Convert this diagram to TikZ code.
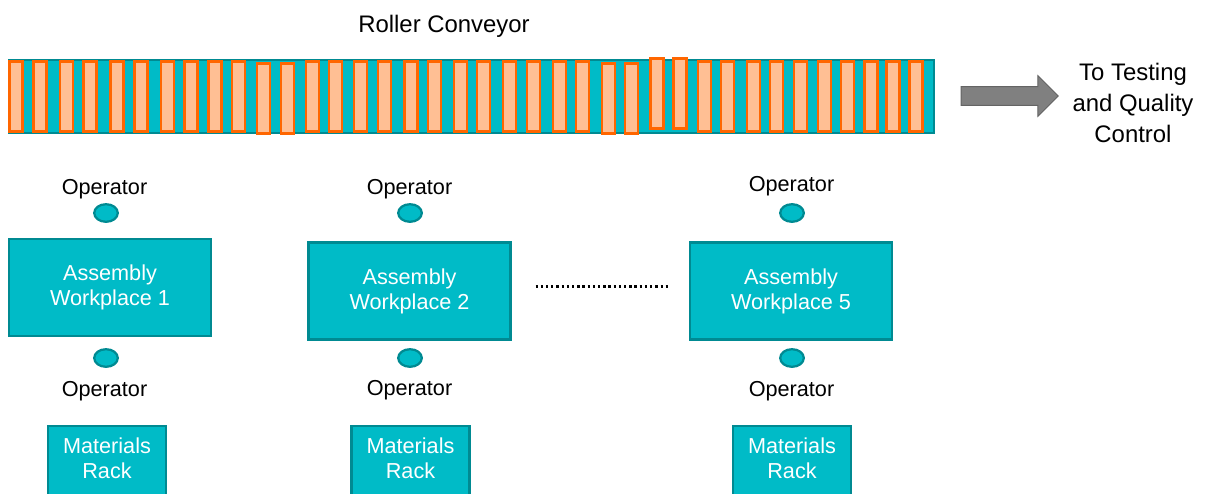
\documentclass[tikz,border=0pt]{standalone}
\usepackage{fontspec}
\setmainfont{Liberation Sans}
\usetikzlibrary{positioning,shapes.geometric,shapes.arrows}

\definecolor{convteal}{RGB}{0,187,199}
\definecolor{tealedge}{RGB}{0,138,146}
\definecolor{rollerline}{RGB}{255,102,0}
\definecolor{rollerfill}{RGB}{255,191,148}
\definecolor{arrowfill}{RGB}{128,128,128}
\definecolor{arrowline}{RGB}{100,100,100}

\newcommand{\bigtext}{\fontsize{17}{22}\selectfont}
\newcommand{\smalltext}{\fontsize{15.4}{17.8}\selectfont}

\tikzset{
  station/.style={draw=tealedge, fill=convteal, line width=1.7pt, text=white,
    align=center, font=\smalltext, minimum width=5.05cm, minimum height=2.43cm},
  rack/.style={draw=tealedge, fill=convteal, line width=1.7pt, text=white,
    align=center, font=\smalltext, text width=2.95cm, anchor=north,
    inner xsep=0pt, inner ysep=8.5pt, text depth=40pt},
  opdot/.style={ellipse, draw=tealedge, fill=convteal, line width=1.6pt,
    minimum width=0.59cm, minimum height=0.44cm, inner sep=0pt},
  oplabel/.style={font=\smalltext, inner sep=0pt, anchor=base},
  roller/.style={draw=rollerline, fill=rollerfill, line width=2.1pt},
  dotline/.style={line width=1.6pt, dash pattern=on 1.6pt off 2.1pt},
}

\begin{document}
\begin{tikzpicture}[x=0.025cm, y=-0.025cm]
    \useasboundingbox (0,0) rectangle (1207,493);
    \clip (0,0) rectangle (1207,493);

    % conveyor with its rollers
    \node[font=\bigtext, inner sep=0pt] (title) at (444,26) {Roller Conveyor};
    \node[draw=tealedge, fill=convteal, line width=1.4pt, inner sep=0pt,
          minimum width=23.125cm, minimum height=1.825cm, anchor=north west] (conveyor) at (8,59) {};
    \foreach \x/\dy in {16/0, 40/0, 66.5/0, 90/0, 117/0, 141/0, 167.5/0, 191/0, 215/0, 238.5/0,
                        263.5/2, 287.5/2, 312.5/0, 335.5/0, 360.5/0, 384.5/0, 411/0, 434.5/0, 460.5/0,
                        483.5/0, 509.5/0, 533.5/0, 559.5/0, 582.5/0, 608.5/2, 631.5/2, 657/-3, 680/-3,
                        704.5/0, 727.5/0, 753.5/0, 776.5/0, 800.5/0, 824.5/0, 847.5/0, 871/0, 893/0, 916/0}
        \draw[roller] (\x-6.5,61.5+\dy) rectangle (\x+6.5,131.5+\dy);

    \node[single arrow, draw=arrowline, fill=arrowfill, line width=0.7pt, inner sep=0.22cm,
          minimum height=2.43cm, single arrow head extend=0.275cm] (out) at (1005,96) {};
    \node[font=\bigtext, align=center, inner sep=0pt] (qc) at (1133,103) {To Testing\\and Quality\\Control};

    % workplaces
    \node[station] (wp1) at (110,287.5) {Assembly\\Workplace 1};
    \node[station] (wp2) at (409.5,291) {Assembly\\Workplace 2};
    \node[station] (wp5) at (791,291) {Assembly\\Workplace 5};
    \draw[dotline, shorten <=17pt, shorten >=13.5pt] ([yshift=3.2pt]wp2.east) -- ([yshift=3.2pt]wp5.west);

    % operators
    \node[oplabel] (op1a) at (104.5,194) {Operator};
    \node[opdot] (dot1a) at (106,213) {};
    \node[opdot] (dot1b) at (106,358) {};
    \node[oplabel] (op1b) at (104.5,396) {Operator};

    \node[oplabel] (op2a) at (409.5,194) {Operator};
    \node[opdot] (dot2a) at (410,213) {};
    \node[opdot] (dot2b) at (410,358) {};
    \node[oplabel] (op2b) at (409.5,395) {Operator};

    \node[oplabel] (op5a) at (791.5,191) {Operator};
    \node[opdot] (dot5a) at (792,213) {};
    \node[opdot] (dot5b) at (792,358) {};
    \node[oplabel] (op5b) at (791.5,396) {Operator};

    % racks
    \node[rack] (rack1) at (107,425) {Materials\\Rack};
    \node[rack] (rack2) at (410.5,425) {Materials\\Rack};
    \node[rack] (rack5) at (792,425) {Materials\\Rack};
\end{tikzpicture}
\end{document}
